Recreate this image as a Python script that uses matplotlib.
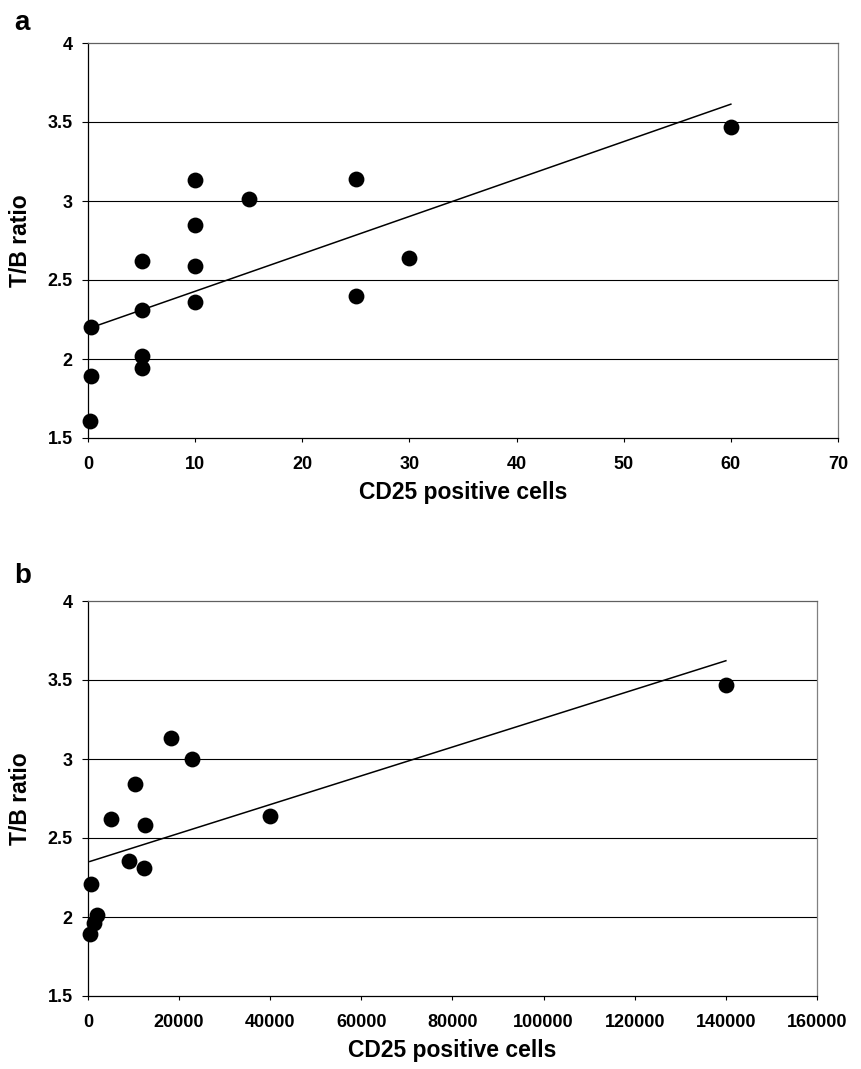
#!/usr/bin/env python3
"""Two-panel scatter of T/B ratio against CD25 positive cells, with linear trend lines."""

import matplotlib

matplotlib.use("Agg")
import matplotlib.pyplot as plt
import numpy as np

plt.rcParams["font.family"] = ["Liberation Sans", "DejaVu Sans"]
plt.rcParams["font.weight"] = "bold"

# panel a: CD25 positive cells (count per field)
A_CD25 = [0.3, 0.3, 0.2, 5, 5, 5, 5, 10, 10, 10, 10, 15, 25, 25, 30, 60]
A_TB = [2.20, 1.89, 1.61, 2.62, 2.31, 2.02, 1.94, 3.13, 2.85, 2.59, 2.36, 3.01, 3.14, 2.40, 2.64, 3.47]
A_XTICKS = [0, 10, 20, 30, 40, 50, 60, 70]

# panel b: CD25 positive cells (absolute)
B_CD25 = [750, 2000, 1250, 400, 5100, 10300, 18200, 22900, 12600, 8900, 12300, 40000, 140000]
B_TB = [2.21, 2.015, 1.96, 1.89, 2.62, 2.84, 3.13, 3.00, 2.58, 2.355, 2.31, 2.64, 3.47]
B_XTICKS = [0, 20000, 40000, 60000, 80000, 100000, 120000, 140000, 160000]

Y_TICKS = [1.5, 2, 2.5, 3, 3.5, 4]
Y_TICK_LABELS = ["1.5", "2", "2.5", "3", "3.5", "4"]

TICK_SIZE = 13
LABEL_SIZE = 16.5
PANEL_SIZE = 20


def draw_panel(ax, x, y, xticks):
    x = np.asarray(x, dtype=float)
    y = np.asarray(y, dtype=float)

    for gy in Y_TICKS[1:-1]:
        ax.axhline(gy, color="black", linewidth=0.8, zorder=1)

    # least-squares trend line over the observed range
    slope, intercept = np.polyfit(x, y, 1)
    fx = np.array([x.min(), x.max()])
    ax.plot(fx, slope * fx + intercept, color="black", linewidth=1.1, zorder=2)

    ax.scatter(x, y, s=130, color="black", linewidth=0, zorder=3, clip_on=False)

    ax.set_xlim(xticks[0], xticks[-1])
    ax.set_ylim(Y_TICKS[0], Y_TICKS[-1])
    ax.set_xticks(xticks)
    ax.set_xticklabels([str(t) for t in xticks])
    ax.set_yticks(Y_TICKS)
    ax.set_yticklabels(Y_TICK_LABELS)

    ax.tick_params(axis="x", direction="out", length=3, width=0.8, pad=10, labelsize=TICK_SIZE)
    ax.tick_params(axis="y", direction="out", length=4, width=0.8, pad=7, labelsize=TICK_SIZE)
    for lab in ax.get_xticklabels() + ax.get_yticklabels():
        lab.set_fontweight("bold")

    ax.spines["left"].set_color("black")
    ax.spines["bottom"].set_color("black")
    ax.spines["top"].set_color("#606060")
    ax.spines["right"].set_color("#808080")
    for side in ax.spines.values():
        side.set_linewidth(0.9)

    ax.set_xlabel("CD25 positive cells", fontsize=LABEL_SIZE, fontweight="bold", labelpad=6)
    ax.set_ylabel("T/B ratio", fontsize=LABEL_SIZE, fontweight="bold", labelpad=11)


def main():
    W, H = 862, 1069
    fig = plt.figure(figsize=(W / 100, H / 100), dpi=100)

    ax_a = fig.add_axes([88 / W, 1 - 438 / H, (838 - 88) / W, (438 - 43) / H])
    ax_b = fig.add_axes([88 / W, 1 - 996 / H, (817 - 88) / W, (996 - 601) / H])

    draw_panel(ax_a, A_CD25, A_TB, A_XTICKS)
    draw_panel(ax_b, B_CD25, B_TB, B_XTICKS)

    fig.text(14 / W, 1 - 30 / H, "a", fontsize=PANEL_SIZE, fontweight="bold", va="baseline")
    fig.text(14 / W, 1 - 583 / H, "b", fontsize=PANEL_SIZE, fontweight="bold", va="baseline")

    fig.savefig("out.png", dpi=100)
    plt.close(fig)


if __name__ == "__main__":
    main()
